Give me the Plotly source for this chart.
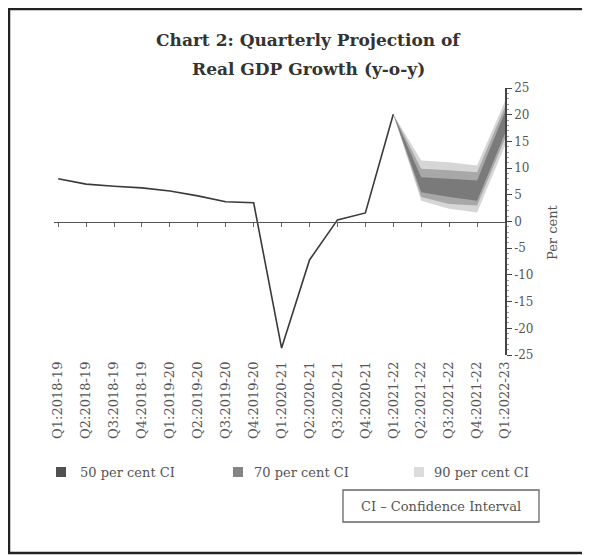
import plotly.graph_objects as go

# ---------------- data ----------------
quarters = ["Q1:2018-19", "Q2:2018-19", "Q3:2018-19", "Q4:2018-19",
            "Q1:2019-20", "Q2:2019-20", "Q3:2019-20", "Q4:2019-20",
            "Q1:2020-21", "Q2:2020-21", "Q3:2020-21", "Q4:2020-21",
            "Q1:2021-22", "Q2:2021-22", "Q3:2021-22", "Q4:2021-22",
            "Q1:2022-23"]
actual_quarters = quarters[:13]
gdp_actual = [8.0, 7.0, 6.6, 6.3, 5.7, 4.8, 3.7, 3.5, -23.7, -7.2, 0.3, 1.6, 20.1]

fan_quarters = quarters[12:]
ci90_upper = [20.1, 11.4, 11.1, 10.5, 22.5]
ci70_upper = [20.1, 9.9, 9.6, 9.2, 21.5]
ci50_upper = [20.1, 8.3, 8.0, 7.7, 20.5]
ci50_lower = [20.1, 5.5, 4.6, 3.9, 16.5]
ci70_lower = [20.1, 4.6, 3.3, 3.0, 15.5]
ci90_lower = [20.1, 3.9, 2.4, 1.7, 14.2]

y_ticks = [25, 20, 15, 10, 5, 0, -5, -10, -15, -20, -25]
y_ticktext = ["25", "20", "15", "10", "5", "0", "-5", "-10", "-15", "-20", "-25"]

# ---------------- layout geometry ----------------
OFF = 8                      # browser body margin
W, H = 582, 547
ML, MR, MT, MB = 46, 85, 80, 200
PW, PH = W - ML - MR, H - MT - MB
FONT = "DejaVu Serif"


def px2x(px):
    """page pixel x -> paper fraction"""
    return (px - OFF - ML) / PW


def py2y(py):
    """page pixel y -> paper fraction"""
    return (H - MB - (py - OFF)) / PH


C90, C70, C50 = "#d6d6d6", "#a8a8a8", "#7a7a7a"

fig = go.Figure()

# fan bands
for lo, up, col in [(ci90_lower, ci90_upper, C90),
                    (ci70_lower, ci70_upper, C70),
                    (ci50_lower, ci50_upper, C50)]:
    fig.add_trace(go.Scatter(x=fan_quarters, y=lo, mode="lines",
                             line=dict(width=0, color=col), showlegend=False,
                             hoverinfo="skip"))
    fig.add_trace(go.Scatter(x=fan_quarters, y=up, mode="lines", fill="tonexty",
                             fillcolor=col, line=dict(width=0, color=col),
                             showlegend=False, hoverinfo="skip"))

# actual line
fig.add_trace(go.Scatter(x=actual_quarters, y=gdp_actual, mode="lines",
                         line=dict(color="#3a3a3a", width=1.6), showlegend=False))

# zero-axis helper trace (registers categories on x2)
fig.add_trace(go.Scatter(x=quarters, y=[0] * len(quarters), mode="lines",
                         line=dict(width=0), xaxis="x2", showlegend=False,
                         hoverinfo="skip"))

xr = [-0.15, len(quarters) - 1]

fig.update_layout(
    width=W, height=H,
    margin=dict(l=ML, r=MR, t=MT, b=MB),
    paper_bgcolor="white", plot_bgcolor="white",
    font=dict(family=FONT, color="#444"),
    showlegend=False,
    xaxis=dict(type="category", categoryorder="array", categoryarray=quarters,
               range=xr, showgrid=False, showline=False, zeroline=False,
               ticks="", tickangle=-90, tickfont=dict(size=13, color="#555"),
               ticklabelstandoff=3),
    xaxis2=dict(type="category", categoryorder="array", categoryarray=quarters,
                range=xr, overlaying="x", anchor="free", position=0.5,
                showgrid=False, showline=True, linecolor="#555", linewidth=1.3,
                ticks="outside", ticklen=4, tickcolor="#666",
                showticklabels=False, zeroline=False),
    yaxis=dict(range=[-25, 25], side="right", tickvals=y_ticks,
               ticktext=y_ticktext,
               showgrid=False, zeroline=False, showline=True,
               linecolor="#444", linewidth=1.5, ticks="outside", ticklen=5,
               tickcolor="#444", tickfont=dict(size=12, color="#555"),
               minor=dict(dtick=1, ticks="outside", ticklen=2,
                          tickcolor="#999")),
)

shapes = []
annotations = []


def label(text, x, y, size, color="#555", angle=0, xanchor="center"):
    annotations.append(dict(text=text, xref="paper", yref="paper",
                            x=px2x(x), y=py2y(y), xanchor=xanchor,
                            yanchor="middle", textangle=angle,
                            showarrow=False,
                            font=dict(size=size, color=color, family=FONT)))


# outer frame
shapes.append(dict(type="rect", xref="paper", yref="paper",
                   x0=px2x(9), x1=px2x(620), y0=py2y(553), y1=py2y(9),
                   line=dict(color="#222", width=2.5)))

# title
label("<b>Chart 2: Quarterly Projection of</b>", 308, 40, 17, "#333")
label("<b>Real GDP Growth (y-o-y)</b>", 308, 69, 17, "#333")

# y-axis title
label("Per cent", 552, 232, 13, angle=-90)

# legend
legend_items = [("50 per cent CI", "#505050", 56, 78),
                ("70 per cent CI", "#858585", 233, 252),
                ("90 per cent CI", "#dcdcdc", 414, 432)]
for text, col, sx, tx in legend_items:
    shapes.append(dict(type="rect", xref="paper", yref="paper",
                       x0=px2x(sx), x1=px2x(sx + 10), y0=py2y(477), y1=py2y(467),
                       fillcolor=col, line=dict(width=0)))
    label(text, tx, 472, 13, xanchor="left")

# CI note box
shapes.append(dict(type="rect", xref="paper", yref="paper",
                   x0=px2x(343), x1=px2x(539), y0=py2y(522), y1=py2y(490),
                   line=dict(color="#666", width=1.3)))
label("CI – Confidence Interval", 441, 506, 13)

fig.update_layout(shapes=shapes, annotations=annotations)

fig.write_html("out.html")
